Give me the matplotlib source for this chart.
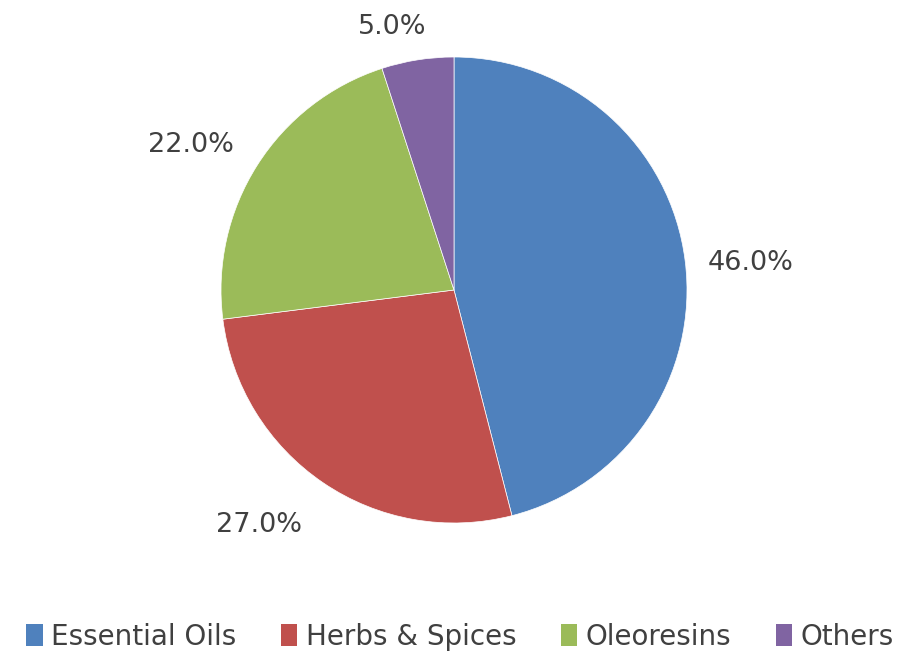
"""Pie chart: market share by product type."""

import matplotlib

matplotlib.use("Agg")
import matplotlib.pyplot as plt
import numpy as np
from matplotlib.patches import Patch

categories = ["Essential Oils", "Herbs & Spices", "Oleoresins", "Others"]
shares = [46.0, 27.0, 22.0, 5.0]
colors = ["#4F81BD", "#C0504D", "#9BBB59", "#8064A2"]

# label placement (Excel "best fit"): distance in pie radii, angle nudge in degrees
label_radii = [1.28, 1.31, 1.29, 1.16]
label_nudge = [-2.0, -5.4, 3.6, 4.2]
text_color = "#404040"

plt.rcParams["font.family"] = ["DejaVu Sans"]

W, H = 910, 657
fig = plt.figure(figsize=(W / 100, H / 100), dpi=100)
fig.patch.set_facecolor("white")

# pie centre (454, 290) px, radius 233 px; axes span +-1.5 radii
radius_px = 233
cx, cy = 454, H - 290
span = 3 * radius_px
ax = fig.add_axes([(cx - span / 2) / W, (cy - span / 2) / H, span / W, span / H])

wedges, _ = ax.pie(
    shares,
    colors=colors,
    startangle=90,
    counterclock=False,
    wedgeprops={"edgecolor": "white", "linewidth": 0.5},
)
ax.set_xlim(-1.5, 1.5)
ax.set_ylim(-1.5, 1.5)
ax.set_aspect("equal")
ax.axis("off")

for w, val, r, nudge in zip(wedges, shares, label_radii, label_nudge):
    mid = np.deg2rad((w.theta1 + w.theta2) / 2 + nudge)
    ax.text(
        r * np.cos(mid),
        r * np.sin(mid),
        f"{val:.1f}%",
        ha="center",
        va="center",
        fontsize=19.5,
        color=text_color,
    )

handles = [Patch(facecolor=c, edgecolor="none") for c in colors]
fig.legend(
    handles,
    categories,
    loc="center",
    bbox_to_anchor=(460 / W, 1 - 637 / H),
    ncol=4,
    frameon=False,
    fontsize=20,
    labelcolor=text_color,
    handlelength=0.6,
    handleheight=0.85,
    handletextpad=0.3,
    columnspacing=1.6,
)

fig.savefig("out.png", dpi=100, facecolor="white")
